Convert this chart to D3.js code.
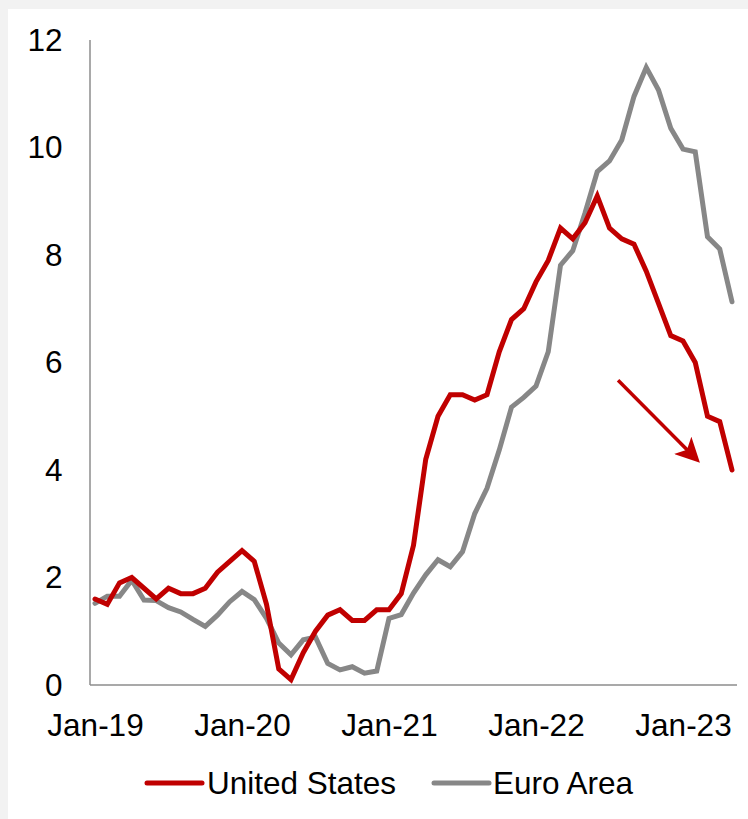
<!DOCTYPE html>
<html>
<head>
<meta charset="utf-8">
<script src="https://cdn.jsdelivr.net/npm/d3@7"></script>
<style>
  body { margin: 0; background: #f2f2f2; }
  svg { display: block; font-family: "Liberation Sans", Arial, sans-serif; }
</style>
</head>
<body>
<div id="chart"></div>
<script>
var svgWidth = 748;
var svgHeight = 819;

// monthly data, Jan-19 .. May-23
var xTickIdx = [0, 12, 24, 36, 48];
var xTickLabels = ["Jan-19", "Jan-20", "Jan-21", "Jan-22", "Jan-23"];
var yTicks = [0, 2, 4, 6, 8, 10, 12];

var usValues = [
  1.6, 1.5, 1.9, 2.0, 1.8, 1.6, 1.8, 1.7, 1.7, 1.8, 2.1, 2.3,
  2.5, 2.3, 1.5, 0.3, 0.1, 0.6, 1.0, 1.3, 1.4, 1.2, 1.2, 1.4,
  1.4, 1.7, 2.6, 4.2, 5.0, 5.4, 5.4, 5.3, 5.4, 6.2, 6.8, 7.0,
  7.5, 7.9, 8.5, 8.3, 8.6, 9.1, 8.5, 8.3, 8.2, 7.7, 7.1, 6.5,
  6.4, 6.0, 5.0, 4.9, 4.0
];

var euroValues = [
  1.52, 1.65, 1.65, 1.95, 1.58, 1.57, 1.44, 1.36, 1.22, 1.09, 1.30, 1.55,
  1.74, 1.59, 1.24, 0.78, 0.56, 0.84, 0.89, 0.40, 0.28, 0.34, 0.22, 0.26,
  1.24, 1.31, 1.71, 2.05, 2.33, 2.20, 2.48, 3.19, 3.66, 4.37, 5.17, 5.35,
  5.56, 6.20, 7.81, 8.08, 8.78, 9.55, 9.75, 10.14, 10.95, 11.49, 11.07, 10.36,
  9.97, 9.92, 8.34, 8.11, 7.13
];

var seriesNames = ["United States", "Euro Area"];
var seriesColors = ["#c00000", "#878787"];

var fontSize = 31.5;

var svg = d3.select("#chart")
  .append("svg")
  .attr("width", svgWidth)
  .attr("height", svgHeight);

// white panel over the grey page
svg.append("rect")
  .attr("x", 8).attr("y", 9)
  .attr("width", svgWidth - 8).attr("height", svgHeight - 9)
  .attr("fill", "#ffffff");

var xScale = d3.scaleLinear()
  .domain([0, usValues.length - 1])
  .range([95, 732]);

var yScale = d3.scaleLinear()
  .domain([0, 12])
  .range([685, 40]);

// axes (text only, lines drawn below)
var bottomAxis = d3.axisBottom(xScale)
  .tickValues(xTickIdx)
  .tickFormat((d, i) => xTickLabels[i])
  .tickSize(0)
  .tickPadding(28.5);

var leftAxis = d3.axisLeft(yScale)
  .tickValues(yTicks)
  .tickSize(0)
  .tickPadding(27.5);

var xAxis = svg.append("g")
  .attr("transform", `translate(0, ${yScale(0)})`)
  .call(bottomAxis);

var yAxis = svg.append("g")
  .attr("transform", "translate(90, 0)")
  .call(leftAxis);

[xAxis, yAxis].forEach(function(ax) {
  ax.select(".domain").remove();
  ax.selectAll("text")
    .attr("fill", "#000")
    .style("font-size", fontSize + "px");
});

svg.append("line")
  .attr("x1", 90).attr("x2", 90)
  .attr("y1", yScale(12)).attr("y2", yScale(0))
  .attr("stroke", "#8c8c8c").attr("stroke-width", 1.5);

svg.append("line")
  .attr("x1", 90).attr("x2", 737)
  .attr("y1", yScale(0)).attr("y2", yScale(0))
  .attr("stroke", "#8c8c8c").attr("stroke-width", 1.5);

var line = d3.line()
  .x((d, i) => xScale(i))
  .y(d => yScale(d));

// euro first so US sits on top where they cross
[euroValues, usValues].forEach(function(vals, k) {
  svg.append("path")
    .datum(vals)
    .attr("d", line)
    .attr("fill", "none")
    .attr("stroke", seriesColors[1 - k])
    .attr("stroke-width", 5)
    .attr("stroke-linecap", "round")
    .attr("stroke-linejoin", "miter");
});

// downward arrow
var defs = svg.append("defs");
defs.append("marker")
  .attr("id", "arrowhead")
  .attr("viewBox", "0 0 10 10")
  .attr("refX", 8).attr("refY", 5)
  .attr("markerWidth", 7).attr("markerHeight", 7)
  .attr("markerUnits", "strokeWidth")
  .attr("orient", "auto")
  .append("path")
  .attr("d", "M0,0 L10,5 L0,10 L2.5,5 Z")
  .attr("fill", "#c00000");

svg.append("line")
  .attr("x1", xScale(42.7)).attr("y1", yScale(5.67))
  .attr("x2", xScale(49.1)).attr("y2", yScale(4.2))
  .attr("stroke", "#c00000")
  .attr("stroke-width", 3.5)
  .attr("marker-end", "url(#arrowhead)");

// legend
var legendItems = [
  { x: 147, textX: 207 },
  { x: 434, textX: 493 }
];
legendItems.forEach(function(item, i) {
  svg.append("line")
    .attr("x1", item.x).attr("x2", item.x + 55)
    .attr("y1", 783).attr("y2", 783)
    .attr("stroke", seriesColors[i])
    .attr("stroke-width", 5)
    .attr("stroke-linecap", "round");
  svg.append("text")
    .attr("x", item.textX)
    .attr("y", 794)
    .style("font-size", fontSize + "px")
    .attr("fill", "#000")
    .text(seriesNames[i]);
});
</script>
</body>
</html>
